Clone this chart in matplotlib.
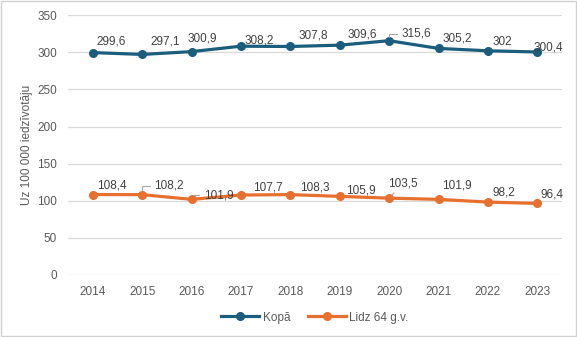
import matplotlib.pyplot as plt
from matplotlib.patches import Rectangle

plt.rcParams['font.family'] = ['Liberation Sans', 'DejaVu Sans']

years = ['2014', '2015', '2016', '2017', '2018', '2019', '2020', '2021', '2022', '2023']
kopa = [299.6, 297.1, 300.9, 308.2, 307.8, 309.6, 315.6, 305.2, 302.0, 300.4]
lidz64 = [108.4, 108.2, 101.9, 107.7, 108.3, 105.9, 103.5, 101.9, 98.2, 96.4]
kopa_lbl = ['299,6', '297,1', '300,9', '308,2', '307,8', '309,6', '315,6', '305,2', '302', '300,4']
lidz_lbl = ['108,4', '108,2', '101,9', '107,7', '108,3', '105,9', '103,5', '101,9', '98,2', '96,4']

blue = '#1b5d7c'
orange = '#e8702f'
txt = '#595959'

fig = plt.figure(figsize=(5.77, 3.37), dpi=100)
ax = fig.add_axes([0.118, 0.184, 0.856, 0.771])
x = range(len(years))

ax.plot(x, kopa, color=blue, lw=2.3, marker='o', ms=5.5, label='Kopā', zorder=3)
ax.plot(x, lidz64, color=orange, lw=2.3, marker='o', ms=5.5, label='Lidz 64 g.v.', zorder=3)

# label offsets in pixels (dx to left edge, dy to text centre), leader line style
k_off = [(4, 11), (8, 13), (-4, 13), (4, 6), (8, 11), (8, 11), (12, 7), (4, 10), (5, 9), (-4, 4)]
k_lead = [None, None, None, None, None, None, 'angle', None, None, None]
l_off = [(4, 9), (12, 9), (12, 4), (12, 8), (10, 7), (6, 6), (-1, 15), (4, 14), (5, 10), (3, 9)]
l_lead = [None, 'angle', 'angle', None, None, None, 'straight', None, None, None]

for i in x:
    for vals, lbls, offs, leads in [(kopa, kopa_lbl, k_off, k_lead), (lidz64, lidz_lbl, l_off, l_lead)]:
        dx, dy = offs[i]
        ap = None
        if leads[i] == 'angle':
            ap = dict(arrowstyle='-', color='#a6a6a6', lw=0.8, shrinkA=1, shrinkB=3,
                      connectionstyle='angle,angleA=0,angleB=90,rad=0')
        elif leads[i] == 'straight':
            ap = dict(arrowstyle='-', color='#a6a6a6', lw=0.8, shrinkA=1, shrinkB=3)
        ax.annotate(lbls[i], (i, vals[i]), xytext=(dx * 0.72, dy * 0.72), textcoords='offset points',
                    fontsize=8.5, color='#404040', ha='left', va='center', arrowprops=ap, zorder=4)

ax.set_xlim(-0.5, 9.5)
ax.set_ylim(0, 350)
ax.set_yticks(range(0, 351, 50))
ax.set_xticks(list(x))
ax.set_xticklabels(years)
ax.grid(axis='y', color='#d9d9d9', lw=0.9)
ax.set_axisbelow(True)
for s in ax.spines.values():
    s.set_visible(False)
ax.tick_params(length=0, colors=txt, labelsize=8.5, pad=8)
ax.set_ylabel('Uz 100 000 iedzīvotāju', color=txt, fontsize=8.5, labelpad=3)

ax.legend(loc='upper center', bbox_to_anchor=(0.5, -0.1), ncol=2, frameon=False,
          fontsize=8.5, labelcolor=txt, handlelength=3.2, columnspacing=1.5, handletextpad=0.3)

fig.patches.append(Rectangle((0.002, 0.003), 0.996, 0.994, transform=fig.transFigure,
                             fill=False, edgecolor='#d0d0d0', lw=1))

fig.savefig('out.png', dpi=100)
